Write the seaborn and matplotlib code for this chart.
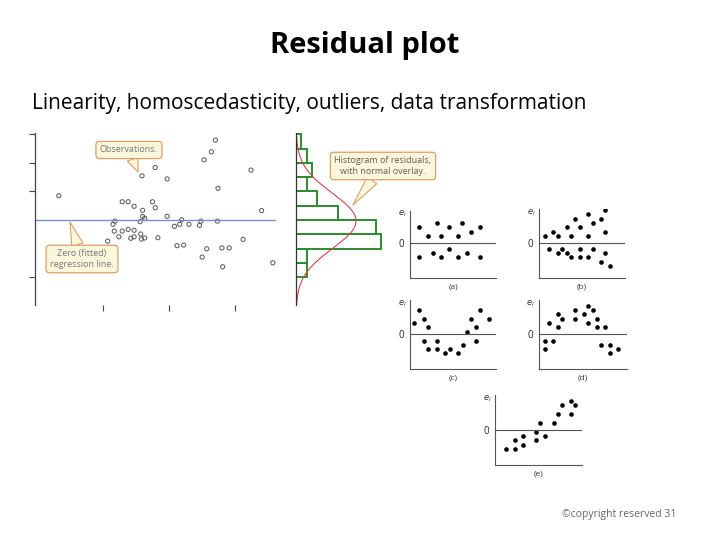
import numpy as np
import matplotlib
matplotlib.use('Agg')
import matplotlib.pyplot as plt
import seaborn as sns

sns.set_style('white')
plt.rcParams['font.family'] = ['Open Sans', 'DejaVu Sans']

# main residual plot (observations vs fitted)
obs_x = [0.33, 1.59, 1.79, 1.97, 2.53, 2.64, 2.70, 2.74, 3.24, 3.40,
         1.29, 1.38, 1.47, 1.60, 1.75, 1.79, 1.60, 1.63, 1.97, 1.56,
         1.18, 1.15, 1.17, 1.24, 1.29, 1.38, 1.47, 1.57, 1.42, 1.47,
         1.58, 1.63, 1.83, 1.07, 2.08, 2.16, 2.19, 2.30, 2.46, 2.48,
         2.73, 2.12, 2.22, 2.57, 2.50, 2.80, 2.91, 2.81, 3.12, 3.57]
obs_y = [0.85, 1.55, 1.84, 1.44, 2.11, 2.39, 2.80, 1.11, 1.75, 0.33,
         0.64, 0.64, 0.48, 0.34, 0.64, 0.43, 0.12, 0.06, 0.13, -0.06,
         -0.04, -0.15, -0.39, -0.59, -0.39, -0.33, -0.36, -0.49, -0.64, -0.59,
         -0.67, -0.63, -0.62, -0.74, -0.22, -0.15, 0.01, -0.15, -0.19, -0.04,
         -0.04, -0.90, -0.88, -1.01, -1.30, -0.98, -0.98, -1.64, -0.68, -1.50]

# histogram of residuals
hist_edges = [-2.0, -1.5, -1.0, -0.5, 0.0, 0.5, 1.0, 1.5, 2.0, 2.5, 3.0]
hist_counts = [2, 2, 16, 15, 8, 4, 2, 3, 2, 1]

# textbook patterns (a)-(e)
pa_x = [0.93, 1.77, 2.67, 3.10, 3.93, 4.83, 5.23, 6.13, 7.00, 0.93, 2.27, 3.10, 3.93, 4.83, 5.70, 7.00]
pa_y = [1.60, 0.76, 2.03, 0.76, 1.60, 0.76, 2.03, 1.13, 1.60, -1.40, -1.00, -1.40, -0.57, -1.40, -1.00, -1.40]
pb_x = [0.60, 1.46, 1.96, 2.80, 3.66, 3.23, 4.10, 4.96, 4.96, 5.40, 6.23, 6.66, 6.66,
        1.06, 1.96, 2.36, 2.80, 3.23, 4.10, 4.10, 4.96, 5.40, 6.23, 6.66, 7.10]
pb_y = [0.76, 1.13, 0.76, 1.60, 2.43, 0.76, 1.60, 2.90, 0.76, 2.03, 2.43, 3.30, 1.13,
        -0.57, -1.00, -0.57, -1.00, -1.40, -0.57, -1.40, -1.40, -0.57, -1.87, -1.00, -2.27]
pc_x = [0.43, 0.93, 1.37, 1.80, 1.37, 1.80, 2.67, 2.67, 3.53, 3.97, 4.83, 5.27, 5.70,
        6.13, 6.57, 6.57, 7.00, 7.87]
pc_y = [1.10, 2.40, 1.53, 0.67, -0.67, -1.50, -0.67, -1.50, -1.93, -1.50, -1.93, -1.07, 0.23,
        1.53, 0.67, -0.67, 2.40, 1.53]
pd_x = [0.60, 0.60, 1.06, 1.46, 1.96, 1.96, 2.36, 3.66, 3.66, 4.53, 4.96, 4.96, 5.40,
        5.80, 5.80, 6.66, 6.23, 7.10, 7.10, 7.96]
pd_y = [-0.67, -1.50, 1.10, -0.67, 2.00, 0.67, 1.53, 2.40, 1.53, 2.00, 2.83, 1.10, 2.40,
        1.53, 0.67, 0.67, -1.07, -1.07, -1.93, -1.50]
pe_x = [1.07, 1.97, 1.97, 2.83, 2.83, 4.13, 4.13, 4.50, 5.00, 5.87, 6.30, 6.70, 7.60, 7.60, 8.03]
pe_y = [-1.90, -1.90, -1.03, -0.60, -1.47, -0.17, -1.03, 0.70, -0.60, 0.70, 1.60, 2.47, 2.90, 1.60, 2.47]

W, H = 720, 540
fig = plt.figure(figsize=(7.2, 5.4), dpi=100)


def add_ax(left, top, right, bottom):
    return fig.add_axes([left / W, 1 - bottom / H, (right - left) / W, (bottom - top) / H])


def px(x, y):
    return (x, H - y)


fig.text(365 / W, 1 - 46 / H, 'Residual plot', ha='center', va='center',
         fontsize=21, fontweight='bold', color='black')
fig.text(32 / W, 1 - 103 / H, 'Linearity, homoscedasticity, outliers, data transformation',
         ha='left', va='center', fontsize=15, color='black')

# main scatter
ax = add_ax(35, 133, 290, 305)
sns.scatterplot(x=obs_x, y=obs_y, ax=ax, s=9, facecolor='none', edgecolor='#555555',
                linewidth=0.7)
ax.axhline(0, xmax=0.94, color='#7893c6', lw=1)
ax.set_xlim(-0.03, 3.83)
ax.set_ylim(-2.98, 3.05)
ax.set_xticks([1, 2, 3])
ax.set_yticks([3, 2, 1, -2])
ax.set_xticklabels([])
ax.set_yticklabels([])
ax.tick_params(left=True, bottom=True, length=4, width=0.8, color='#444444', direction='out')
for s in ['top', 'right', 'bottom']:
    ax.spines[s].set_visible(False)
ax.spines['left'].set_color('#444444')
ax.spines['left'].set_linewidth(0.9)

# histogram of residuals with normal overlay
hx = add_ax(296, 133, 390, 305)
centers = [(a + b) / 2 for a, b in zip(hist_edges[:-1], hist_edges[1:])]
bw = hist_edges[1] - hist_edges[0]
hx.barh(centers, hist_counts, height=bw, color='white', edgecolor='#2e8b2e', linewidth=1.4)
n = sum(hist_counts)
mu = sum(c * m for c, m in zip(hist_counts, centers)) / n
sd = np.sqrt(sum(c * (m - mu) ** 2 for c, m in zip(hist_counts, centers)) / n)
grid = np.linspace(-2.98, 2.98, 200)
dens = n * bw * np.exp(-0.5 * ((grid - mu) / sd) ** 2) / (sd * np.sqrt(2 * np.pi))
sns.lineplot(x=dens, y=grid, ax=hx, sort=False, estimator=None, color='#d2454c', lw=0.8)
hx.set_xlim(0, 17.7)
hx.set_ylim(-2.98, 3.05)
hx.set_xticks([])
hx.set_yticks([])
for s in ['top', 'right', 'bottom']:
    hx.spines[s].set_visible(False)
hx.spines['left'].set_color('#333333')
hx.spines['left'].set_linewidth(0.9)

# callouts
box = dict(boxstyle='round,pad=0.45,rounding_size=0.4', fc='#fbf7dd', ec='#d9a06a', lw=0.9)
arrow = dict(arrowstyle='wedge,tail_width=1.3,shrink_factor=0.5', fc='#fbf7dd', ec='#d9a06a',
             lw=0.8, shrinkA=0, shrinkB=0)
fig.add_artist(plt.Annotation('Observations.', xy=px(138, 172), xycoords='figure pixels',
                              xytext=px(129, 150), textcoords='figure pixels', ha='center',
                              va='center', fontsize=6.5, color='#777777', bbox=box, arrowprops=arrow))
fig.add_artist(plt.Annotation('Zero (fitted)\nregression line.', xy=px(70, 222),
                              xycoords='figure pixels', xytext=px(82, 259),
                              textcoords='figure pixels', ha='center', va='center', fontsize=6.5,
                              color='#777777', bbox=box, arrowprops=arrow, linespacing=1.2))
fig.add_artist(plt.Annotation('Histogram of residuals,\nwith normal overlay.', xy=px(353, 205),
                              xycoords='figure pixels', xytext=px(383, 166),
                              textcoords='figure pixels', ha='center', va='center', fontsize=6.5,
                              color='#6b5a50', bbox=box, arrowprops=arrow, linespacing=1.2))

# pattern panels
panels = [
    (pa_x, pa_y, (410, 210.7, 496, 278.3), (0, 8.6), (-3.5, 3.26), '(a)'),
    (pb_x, pb_y, (538.7, 209.3, 625, 278.3), (0, 8.63), (-3.5, 3.4), '(b)'),
    (pc_x, pc_y, (410, 300, 496, 369), (0, 8.6), (-3.5, 3.4), '(c)'),
    (pd_x, pd_y, (538.7, 300, 626.7, 369), (0, 8.8), (-3.5, 3.4), '(d)'),
    (pe_x, pe_y, (495, 395, 581.7, 465), (0, 8.67), (-3.5, 3.5), '(e)'),
]
for xs, ys, rect, xl, yl, lab in panels:
    pax = add_ax(*rect)
    sns.scatterplot(x=xs, y=ys, ax=pax, s=11, color='black', edgecolor='black', linewidth=0)
    pax.axhline(0, color='#555555', lw=0.8)
    pax.set_xlim(*xl)
    pax.set_ylim(*yl)
    pax.set_xticks([])
    pax.set_yticks([0])
    pax.set_yticklabels(['0'], fontsize=7)
    pax.tick_params(axis='y', length=0, pad=4)
    pax.set_xlabel(lab, fontsize=6, labelpad=4, color='#333333')
    for s in ['top', 'right']:
        pax.spines[s].set_visible(False)
    for s in ['left', 'bottom']:
        pax.spines[s].set_color('#555555')
        pax.spines[s].set_linewidth(0.8)
    pax.text(-0.09, 0.95, '$e_i$', transform=pax.transAxes, fontsize=6, ha='center',
             va='center', color='#333333')

fig.text(562 / W, 1 - 515 / H, '\u00a9copyright reserved 31', ha='left', va='center',
         fontsize=7.5, color='#666666')

fig.savefig('out.png', dpi=100)
